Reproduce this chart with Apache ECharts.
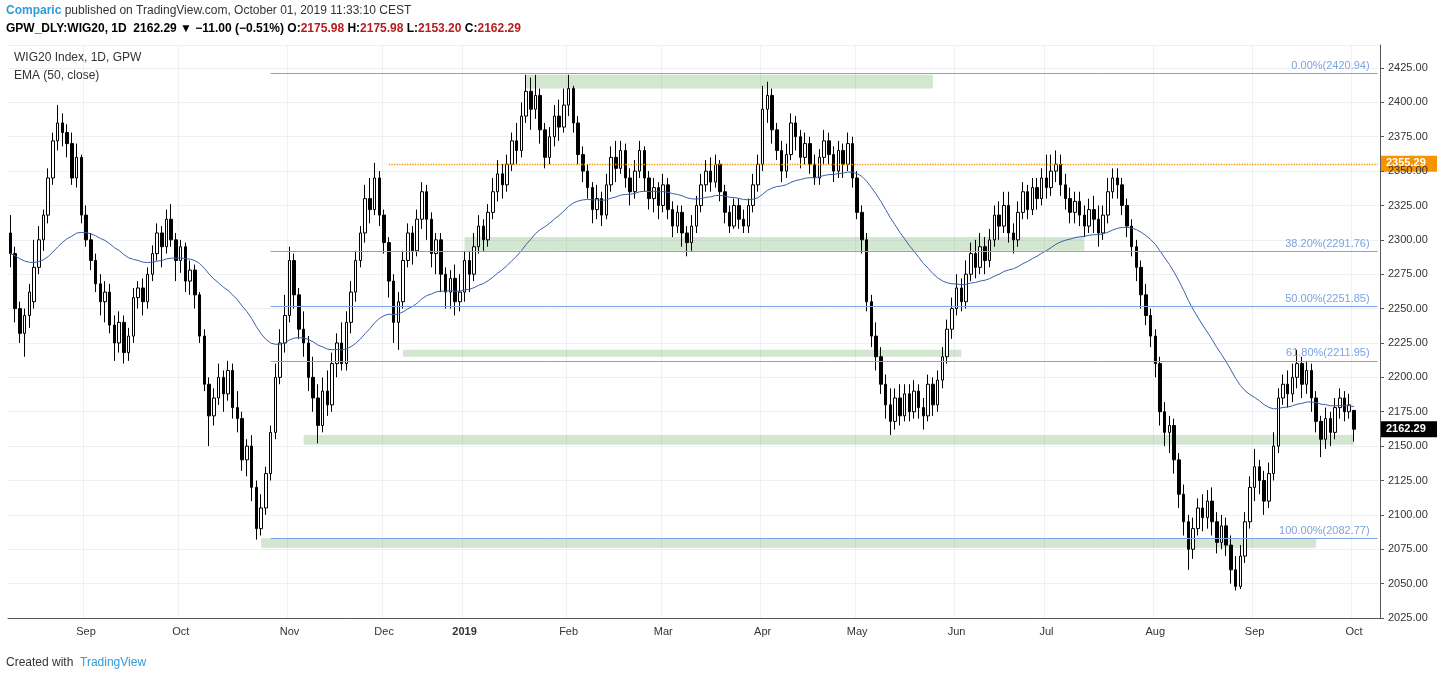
<!DOCTYPE html><html><head><meta charset="utf-8">
<script src="https://cdn.jsdelivr.net/npm/echarts@6/dist/echarts.min.js"></script>
<style>html,body{margin:0;padding:0;background:#fff}#c{width:1444px;height:683px}</style></head><body><div id="c"></div>
<script>
// OHLC candles [open, close, low, high], one per trading day, ending 2019-10-01
const candles = [
[2305,2290,2280,2318],[2290,2250,2240,2295],[2250,2232,2225,2255],[2232,2245,2215,2250],[2245,2262,2236,2268],[2255,2280,2250,2300],[2280,2300,2275,2310],[2300,2318,2292,2322],[2318,2345,2312,2352],[2345,2372,2340,2378],[2372,2385,2365,2398],[2385,2378,2368,2392],[2378,2370,2360,2384],
[2370,2345,2340,2378],[2345,2360,2338,2370],[2360,2318,2312,2362],[2318,2300,2295,2325],[2300,2285,2278,2305],[2285,2268,2262,2290],[2268,2255,2245,2275],[2255,2262,2240,2270],[2262,2238,2232,2268],[2238,2225,2212,2245],[2225,2240,2218,2248],[2240,2218,2210,2245],[2218,2230,2212,2236],[2230,2258,2225,2265],[2258,2265,2250,2270],[2265,2255,2245,2272],[2255,2275,2250,2280],[2275,2290,2270,2296],[2290,2305,2285,2312],[2305,2295,2280,2310],
[2295,2315,2290,2322],[2315,2300,2295,2326],[2300,2285,2270,2305],[2285,2295,2276,2300],[2295,2270,2262,2298],[2270,2278,2260,2285],[2278,2260,2250,2282],[2260,2230,2225,2262],[2230,2195,2190,2235],[2195,2172,2150,2200],[2172,2185,2165,2192],[2185,2200,2180,2210],[2200,2188,2175,2205],[2188,2205,2183,2212],[2205,2178,2170,2210],[2178,2170,2160,2190],[2170,2140,2132,2175],[2140,2150,2128,2155],[2150,2120,2110,2158],[2120,2090,2082,2125],[2090,2105,2085,2115],[2105,2130,2100,2135],[2130,2160,2125,2165],
[2160,2200,2155,2210],[2200,2225,2195,2235],[2225,2245,2218,2260],[2245,2285,2240,2295],[2285,2260,2250,2290],[2260,2235,2228,2265],[2235,2225,2215,2248],[2225,2200,2190,2230],[2200,2185,2175,2215],[2185,2165,2152,2195],[2165,2190,2160,2200],[2190,2180,2172,2205],[2180,2210,2175,2218],[2210,2225,2200,2232],[2225,2210,2205,2240],[2210,2240,2205,2248],[2240,2262,2232,2270],[2262,2285,2255,2292],[2285,2305,2280,2310],[2305,2330,2298,2340],[2330,2322,2312,2345],
[2322,2345,2318,2356],[2345,2318,2310,2350],[2318,2298,2290,2322],[2298,2270,2258,2302],[2270,2240,2225,2275],[2240,2255,2220,2262],[2255,2285,2250,2292],[2285,2305,2280,2312],[2305,2292,2282,2310],[2292,2315,2288,2322],[2315,2335,2308,2342],[2335,2315,2300,2340],[2315,2290,2280,2320],[2290,2300,2275,2305],[2300,2275,2262,2305],[2275,2262,2250,2280],[2262,2272,2250,2278],[2272,2255,2245,2282],[2255,2262,2248,2275],
[2262,2285,2255,2292],[2285,2275,2262,2292],[2275,2295,2270,2305],[2295,2310,2290,2318],[2310,2300,2292,2315],[2300,2320,2295,2326],[2320,2335,2315,2345],[2335,2348,2328,2358],[2348,2340,2330,2355],[2340,2355,2335,2362],[2355,2372,2350,2378],[2372,2365,2355,2385],[2365,2390,2360,2400],[2390,2408,2385,2420],[2408,2395,2380,2418],[2395,2405,2388,2420],[2405,2380,2370,2410],[2380,2360,2352,2385],[2360,2375,2355,2382],[2375,2390,2368,2398],[2390,2382,2372,2402],[2382,2398,2378,2410],
[2398,2410,2390,2420],[2410,2385,2378,2412],[2385,2362,2355,2390],[2362,2350,2342,2368],[2350,2338,2330,2355],[2338,2322,2312,2342],[2322,2330,2315,2340],[2330,2318,2310,2335],[2318,2340,2315,2348],[2340,2360,2335,2368],[2360,2352,2342,2372],[2352,2365,2348,2372],[2365,2345,2338,2370],[2345,2335,2325,2352],[2335,2350,2330,2358],[2350,2365,2345,2372],[2365,2345,2335,2368],[2345,2330,2322,2350],[2330,2338,2320,2345],[2338,2325,2315,2342],
[2325,2340,2320,2348],[2340,2322,2315,2345],[2322,2310,2302,2328],[2310,2320,2305,2325],[2320,2305,2295,2325],[2305,2298,2288,2310],[2298,2310,2292,2318],[2310,2325,2305,2332],[2325,2340,2320,2348],[2340,2350,2335,2358],[2350,2342,2335,2360],[2342,2355,2338,2362],[2355,2335,2328,2358],[2335,2320,2312,2340],[2320,2310,2305,2325],[2310,2325,2308,2330],[2325,2315,2308,2330],[2315,2310,2305,2322],[2310,2325,2305,2330],[2325,2340,2320,2348],[2340,2355,2335,2362],
[2355,2395,2350,2412],[2395,2405,2385,2415],[2405,2380,2370,2410],[2380,2365,2358,2385],[2365,2350,2342,2372],[2350,2362,2345,2370],[2362,2385,2358,2392],[2385,2375,2365,2390],[2375,2360,2352,2380],[2360,2370,2355,2378],[2370,2355,2348,2375],[2355,2345,2340,2362],[2345,2360,2340,2366],[2360,2372,2355,2380],[2372,2362,2355,2378],[2362,2350,2342,2368],[2350,2365,2345,2372],[2365,2355,2345,2370],[2355,2370,2350,2378],[2370,2345,2338,2375],
[2345,2320,2315,2350],[2320,2300,2290,2325],[2300,2255,2248,2305],[2255,2230,2222,2260],[2230,2215,2205,2240],[2215,2195,2188,2222],[2195,2180,2170,2202],[2180,2168,2158,2192],[2168,2185,2162,2192],[2185,2172,2165,2195],[2172,2188,2168,2195],[2188,2175,2168,2195],[2175,2190,2170,2198],[2190,2178,2170,2195],[2178,2172,2162,2185],[2172,2195,2168,2202],[2195,2180,2172,2200],[2180,2198,2175,2205],[2198,2215,2192,2222],[2215,2235,2210,2242],[2235,2250,2228,2258],
[2250,2265,2245,2275],[2265,2255,2248,2272],[2255,2275,2250,2285],[2275,2290,2270,2298],[2290,2280,2272,2300],[2280,2295,2275,2305],[2295,2285,2275,2302],[2285,2300,2280,2308],[2300,2318,2295,2325],[2318,2310,2300,2328],[2310,2325,2305,2335],[2325,2305,2298,2335],[2305,2300,2290,2312],[2300,2320,2295,2328],[2320,2335,2315,2342],[2335,2322,2315,2340],[2322,2338,2318,2345],[2338,2330,2322,2345],[2330,2345,2325,2352],
[2345,2338,2330,2362],[2338,2350,2332,2362],[2350,2355,2342,2365],[2355,2340,2332,2362],[2340,2330,2322,2348],[2330,2320,2312,2338],[2320,2328,2312,2335],[2328,2318,2310,2335],[2318,2310,2302,2325],[2310,2322,2305,2330],[2322,2315,2305,2332],[2315,2305,2295,2325],[2305,2318,2300,2325],[2318,2335,2312,2345],[2335,2345,2330,2352],[2345,2340,2330,2352],[2340,2325,2318,2345],[2325,2310,2302,2330],[2310,2295,2288,2315],[2295,2280,2270,2300],[2280,2260,2250,2285],[2260,2245,2238,2268],[2245,2230,2222,2250],
[2230,2210,2200,2235],[2210,2175,2165,2215],[2175,2160,2150,2182],[2160,2165,2145,2172],[2165,2140,2130,2170],[2140,2115,2105,2145],[2115,2095,2085,2122],[2095,2075,2060,2100],[2075,2090,2068,2098],[2090,2105,2085,2112],[2105,2098,2088,2115],[2098,2110,2090,2118],[2110,2095,2085,2120],[2095,2080,2072,2102],[2080,2092,2075,2100],[2092,2078,2070,2098],[2078,2060,2050,2085],[2060,2048,2045,2070],[2048,2070,2046,2078],[2070,2095,2065,2102],[2095,2120,2090,2128],
[2120,2135,2110,2148],[2135,2125,2115,2140],[2125,2110,2100,2132],[2110,2130,2105,2138],[2130,2150,2125,2160],[2150,2185,2145,2192],[2185,2195,2180,2202],[2195,2188,2178,2205],[2188,2200,2182,2210],[2200,2210,2192,2220],[2210,2195,2185,2215],[2195,2205,2188,2212],[2205,2185,2175,2210],[2185,2168,2160,2190],[2168,2155,2142,2172],[2155,2170,2148,2178],[2170,2160,2150,2175],[2160,2178,2155,2185],[2178,2185,2170,2192],[2185,2175,2168,2190],[2175,2180,2170,2188],
[2175.98,2162.29,2153.20,2175.98]
];
const holidays = ['2018-08-15','2018-11-01','2018-11-12','2018-12-24','2018-12-25','2018-12-26','2018-12-31','2019-01-01','2019-04-19','2019-04-22','2019-05-01','2019-05-03','2019-06-20','2019-08-15'];
const fibLevels = [2420.94, 2291.76, 2251.85, 2211.95, 2082.77];
const fibNames = ['0.00%','38.20%','50.00%','61.80%','100.00%'];
const resistance = 2355.29;
const lastPrice = 2162.29;
const zones = [ // [fromDate, toDate, low, high]
 ['2019-01-21','2019-05-27',2410,2420],
 ['2019-01-02','2019-07-11',2292,2302],
 ['2018-12-07','2019-06-04',2215,2220],
 ['2018-11-07','2019-10-01',2151,2158],
 ['2018-10-24','2019-09-19',2076,2083]
];
const monthNames=['Jan','Feb','Mar','Apr','May','Jun','Jul','Aug','Sep','Oct','Nov','Dec'];
const padDays = 5;

const dates=[]; let d=new Date(Date.UTC(2019,9,1));
while(dates.length<candles.length){ const w=d.getUTCDay(); const s=d.toISOString().slice(0,10); if(w!==0&&w!==6&&!holidays.includes(s)) dates.unshift(s); d=new Date(d.getTime()-86400000); }
const nData=dates.length;
const cats=dates.slice(); for(let i=0;i<padDays;i++) cats.push('pad'+i);
const near = s => dates.find(x=>x>=s) || dates[nData-1];
const isMonthStart = i => i>0 && i<nData && cats[i].slice(5,7)!==cats[i-1].slice(5,7);

const closes=candles.map(c=>c[1]); const ema=[]; const k=2/51;
closes.forEach((c,i)=>ema.push(i===0?c:+(c*k+ema[i-1]*(1-k)).toFixed(2)));

const chart=echarts.init(document.getElementById('c'));
const fibStart=near('2018-10-26');
const endCat=cats[cats.length-1];
chart.setOption({
 animation:false,
 grid:{left:8,right:64,top:45,bottom:65},
 xAxis:{type:'category',data:cats,boundaryGap:true,
   axisLine:{lineStyle:{color:'#555'}},axisTick:{show:false},
   axisLabel:{interval:(i)=>isMonthStart(i),color:'#333',fontSize:11,margin:8,
     formatter:(v)=>{const m=+v.slice(5,7); return m===1?'{b|'+v.slice(0,4)+'}':monthNames[m-1];},
     rich:{b:{fontWeight:'bold',fontSize:11,color:'#333'}}},
   splitLine:{show:true,interval:(i)=>isMonthStart(i),lineStyle:{color:'#eef0f3'}}},
 yAxis:{type:'value',position:'right',min:2025,max:2441.7,interval:25,
   axisLine:{show:true,lineStyle:{color:'#555'}},axisTick:{show:true,length:4,lineStyle:{color:'#555'}},
   axisLabel:{color:'#333',fontSize:11,formatter:v=>v.toFixed(2),showMaxLabel:false},
   splitLine:{lineStyle:{color:'#eef0f3'}}},
 series:[
  {type:'candlestick',data:candles.map(c=>[c[0],c[1],c[2],c[3]]),barWidth:3,
   itemStyle:{color:'#ffffff',color0:'#000000',borderColor:'#000000',borderColor0:'#000000',borderWidth:1},
   markArea:{silent:true,itemStyle:{color:'rgba(120,180,110,0.33)'},
     data:zones.map(z=>[{xAxis:near(z[0]),yAxis:z[2]},{xAxis:near(z[1]),yAxis:z[3]}])},
   markLine:{silent:true,symbol:'none',
     data:[
      ...fibLevels.map((v,i)=>[{coord:[fibStart,v],lineStyle:{color:'#7da3e0',width:1,type:'solid'},
           label:{show:true,position:'insideEndTop',formatter:fibNames[i]+'('+v.toFixed(2)+')',color:'#7da3e0',fontSize:11,distance:[8,2]}},
         {coord:[endCat,v]}]),
      [{coord:[near('2018-12-04'),resistance],lineStyle:{color:'#f59300',width:1.3,type:'dotted'},label:{show:false}},{coord:[endCat,resistance]}]
     ]}
  },
  {type:'line',data:ema,showSymbol:false,smooth:false,lineStyle:{color:'#3b5fa8',width:1},z:3}
 ]
});
function tag(v,bg,fg){const y=chart.convertToPixel({yAxisIndex:0},v);
 return {type:'group',x:1381,y:y-8,children:[{type:'rect',shape:{x:0,y:0,width:56,height:16},style:{fill:bg}},
 {type:'text',x:5,y:2,style:{text:v.toFixed(2),fill:fg,fontSize:11,fontWeight:'bold',fontFamily:'Arial'}}]};}
chart.setOption({graphic:[
  {type:'text',left:6,top:5,style:{text:'{a|Comparic} published on TradingView.com, October 01, 2019 11:33:10 CEST',fontSize:12,fill:'#333',fontFamily:'Arial',rich:{a:{fill:'#2d9cdb',fontWeight:'bold',fontSize:12}}}},
  {type:'text',left:6,top:23,style:{text:'GPW_DLY:WIG20, 1D  2162.29 ▼ −11.00 (−0.51%) O:{v|2175.98} H:{v|2175.98} L:{v|2153.20} C:{v|2162.29}',fontSize:12,fontWeight:'bold',fill:'#000',fontFamily:'Arial',rich:{v:{fill:'#b71c1c',fontWeight:'bold',fontSize:12}}}},
  {type:'text',left:14,top:52,style:{text:'WIG20 Index, 1D, GPW',fontSize:12,fill:'#333',fontFamily:'Arial'}},
  {type:'text',left:14,top:70,style:{text:'EMA (50, close)',fontSize:12,fill:'#333',fontFamily:'Arial'}},
  {type:'text',left:6,top:657,style:{text:'Created with  {t|TradingView}',fontSize:12,fill:'#333',fontFamily:'Arial',rich:{t:{fill:'#2d9cdb',fontSize:12}}}},
  tag(resistance,'#f59300','#fff'), tag(lastPrice,'#000','#fff')
]});
</script></body></html>
